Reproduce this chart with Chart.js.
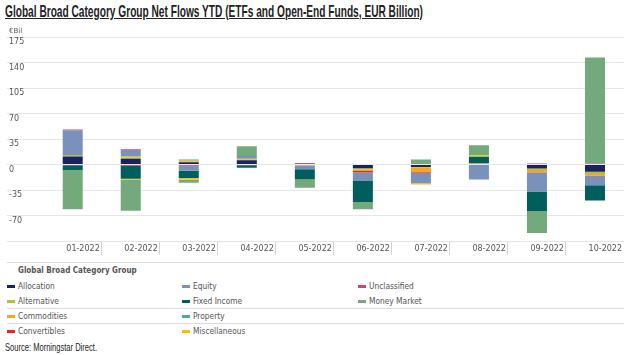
<!DOCTYPE html>
<html><head><meta charset="utf-8">
<script src="https://cdn.jsdelivr.net/npm/chart.js@4/dist/chart.umd.min.js"></script>
<style>
html,body{margin:0;padding:0;background:#fff;}
body{width:624px;height:355px;position:relative;overflow:hidden;font-family:'DejaVu Sans',sans-serif;}
#title{position:absolute;left:5px;top:2px;font-family:'Liberation Sans Narrow','Liberation Sans',sans-serif;font-weight:bold;font-size:17px;color:#222;text-decoration:underline;white-space:nowrap;transform-origin:0 0;}
#unit{position:absolute;left:9px;top:27px;font-size:7px;color:#555;}
#wrap{position:absolute;left:0;top:0;width:624px;height:260px;}
.hline{position:absolute;left:7px;width:617px;height:1px;background:#dcdcdc;}
#ltitle{position:absolute;left:18px;top:266px;font-family:'DejaVu Sans Condensed','DejaVu Sans',sans-serif;font-weight:bold;font-size:8px;color:#555;}
.li{position:absolute;font-family:'DejaVu Sans Condensed','DejaVu Sans',sans-serif;font-size:8.3px;line-height:10px;color:#555;white-space:nowrap;}
.li i{position:absolute;left:-11px;top:4px;width:8px;height:3px;}
#source{position:absolute;left:5px;top:341px;font-family:'Liberation Sans Narrow','Liberation Sans',sans-serif;font-size:11px;color:#222;white-space:nowrap;transform-origin:0 0;}
</style></head>
<body>
<div id="title">Global Broad Category Group Net Flows YTD (ETFs and Open-End Funds, EUR Billion)</div>
<div id="wrap"><canvas id="c" width="624" height="260"></canvas></div>
<div id="unit">€Bil</div>
<div class="hline" style="top:262px"></div>
<div id="ltitle">Global Broad Category Group</div>
<div class="hline" style="top:308px"></div>
<div class="hline" style="top:323px"></div>
<div id="legend"></div>
<div id="source">Source: Morningstar Direct.</div>
<script>
const categories = ['01-2022','02-2022','03-2022','04-2022','05-2022','06-2022','07-2022','08-2022','09-2022','10-2022'];
const seriesNames = ['Allocation','Alternative','Commodities','Convertibles','Equity','Fixed Income','Property','Miscellaneous','Unclassified','Money Market'];
const allocation    = [11,   8,    3,    6,    1,   -5,  -3.3,  0,   -5.5, -10];
const alternative   = [2,    1.5,  1,    1,    0,   -2,  -0.5,  0,   -2,   -3];
const commodities   = [0,    1.5,  1.5,  1,   -1.5, -2,  -7,    1.5, -3,   -2];
const convertibles  = [-1,  -1.5, -1.5, -1,    0,   -1.5, -1,   0,   -0.5, -0.5];
const equity        = [34,   9,   -7,    3.5, -5,  -12,  -14,  -20.5, -26, -13];
const fixedIncome   = [-6.5,-18,  -10,  -3.5, -14,  -29,   0,    9,  -27,  -21];
const property      = [0,    0,    1.5,  0,    0,    0,    0,    0,    0,    0];
const miscellaneous = [0,   -1,   -2.5,  0,   -0.5,  0,   -1.5,  2,    0,    0];
const unclassified  = [1,    1,    0,    0,    1,    0.7,  0,    0,    1.5,  1];
const moneyMarket   = [-54, -43,  -4,   13.5, -11,  -10,   7,   14,  -30,  146];
const yMin = -105, yMax = 175, yStep = 35;

const seriesValues = [allocation, alternative, commodities, convertibles, equity, fixedIncome, property, miscellaneous, unclassified, moneyMarket];
const seriesColors = ['#17225f','#b3c12e','#f7a623','#e8261f','#7a92bb','#005e5c','#4eab88','#f4c20d','#d9437a','#74a97c'];

// legend (column-wise, 4 rows)
const legendCols = [18, 193, 369];
const legendRows = [281, 296, 311, 326];
const lg = document.getElementById('legend');
seriesNames.forEach((n, i) => {
  const col = Math.floor(i / 4), row = i % 4;
  const d = document.createElement('div');
  d.className = 'li';
  d.style.left = legendCols[col] + 'px';
  d.style.top = legendRows[row] + 'px';
  d.innerHTML = '<i style="background:' + seriesColors[i] + '"></i>' + n;
  lg.appendChild(d);
});

// fit narrow texts
function fitWidth(id, w) {
  const el = document.getElementById(id);
  const cw = el.getBoundingClientRect().width;
  el.style.transform = 'scaleX(' + (w / cw) + ')';
}
fitWidth('title', 418);
fitWidth('source', 92);

Chart.defaults.font.family = "'DejaVu Sans', sans-serif";
new Chart(document.getElementById('c'), {
  type: 'bar',
  data: {
    labels: categories,
    datasets: seriesNames.map((n, i) => ({
      label: n,
      data: seriesValues[i],
      backgroundColor: seriesColors[i],
      borderWidth: 0,
      categoryPercentage: 1,
      barPercentage: 0.345
    }))
  },
  options: {
    responsive: false,
    animation: false,
    layout: { padding: { left: 9, top: 37, right: 0, bottom: 0 } },
    plugins: { legend: { display: false }, tooltip: { enabled: false } },
    scales: {
      x: {
        stacked: true,
        grid: { offset: true, drawOnChartArea: false, drawTicks: true, tickLength: 14,
                color: ctx => ctx.index === 0 ? 'rgba(0,0,0,0)' : '#d4d4d4' },
        border: { display: false },
        ticks: { align: 'end', labelOffset: 27, padding: -11, font: { size: 8 }, color: '#555', maxRotation: 0, autoSkip: false },
        afterFit: s => { s.height = 19; }
      },
      y: {
        stacked: true, min: yMin, max: yMax,
        ticks: { stepSize: yStep, crossAlign: 'far', labelOffset: 5, padding: 0, font: { size: 8 }, color: '#555',
                 callback: v => v === yMin ? '' : v },
        grid: { color: '#e6e6e6', tickLength: 37, drawTicks: true },
        border: { display: false },
        afterFit: s => { s.width = 34.7; }
      }
    }
  }
});
</script>
</body></html>
